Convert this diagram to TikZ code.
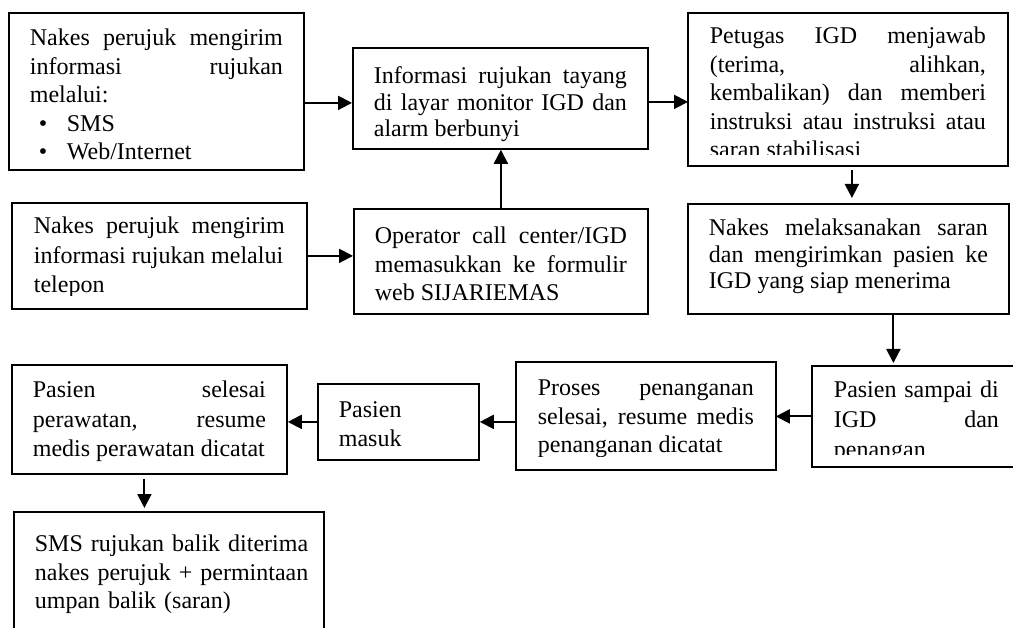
\documentclass[tikz,border=0pt]{standalone}
\usepackage{fontspec}
\setmainfont{Liberation Serif}
\usetikzlibrary{arrows.meta}
\hyphenpenalty=10000
\exhyphenpenalty=10000

\begin{document}
\begin{tikzpicture}[x=1pt, y=-1pt,
    kotak/.style={draw, line width=1.8pt, anchor=north west, align=justify,
        inner xsep=21pt, inner ysep=0pt, font=\fontsize{24}{28.5}\selectfont},
    panah/.style={-{Triangle[length=14pt,width=14pt]}, line width=2pt}]
    \useasboundingbox (0,0) rectangle (1013,628);

    \node[kotak, text width=253pt, text height=33pt, text depth=124pt] (kirimweb) at (8,12)
        {Nakes perujuk mengirim\linebreak informasi rujukan\linebreak melalui:\\
         \hspace*{9pt}\makebox[28pt][l]{\textbullet}SMS\\
         \hspace*{9pt}\makebox[28pt][l]{\textbullet}Web/Internet};
    \node[kotak, text width=253pt, text height=36pt, text depth=65pt,
        font=\fontsize{24}{26.5}\selectfont] (tayang) at (352,47)
        {Informasi rujukan tayang\linebreak di layar monitor IGD dan\linebreak alarm berbunyi};
    \begin{scope}
        \clip (686,11) rectangle (1008,155);
        \node[kotak, draw=none, text width=276pt, text height=30pt, text depth=121pt] (petugas) at (688,13)
            {Petugas IGD menjawab\linebreak (terima, alihkan,\linebreak kembalikan) dan memberi\linebreak
             instruksi atau instruksi atau\linebreak saran stabilisasi};
    \end{scope}
    \draw[line width=1.8pt] (petugas.north west) rectangle (petugas.south east);

    \begin{scope}
        \clip (10,201) rectangle (307,296);
        \node[kotak, draw=none, text width=251pt, text height=30pt, text depth=74pt,
            font=\fontsize{24}{29.5}\selectfont] (kirimtelp) at (12,203)
            {Nakes perujuk mengirim\linebreak informasi rujukan melalui\\ telepon};
    \end{scope}
    \draw[line width=1.8pt] (kirimtelp.north west) rectangle (kirimtelp.south east);
    \node[kotak, text width=252pt, text height=35pt, text depth=70pt] (operator) at (353,208)
        {Operator call center/IGD\linebreak memasukkan ke formulir\linebreak web SIJARIEMAS};
    \node[kotak, text width=279pt, text height=32pt, text depth=78pt,
        font=\fontsize{24}{26.5}\selectfont] (laksana) at (687,203)
        {Nakes melaksanakan saran\linebreak dan mengirimkan pasien ke\linebreak IGD yang siap menerima};

    \begin{scope}
        \clip (810,364) rectangle (1013,455);
        \node[kotak, draw=none, text width=165pt, text height=31pt, text depth=68pt,
            font=\fontsize{24}{30}\selectfont] (sampai) at (812,366)
            {Pasien sampai di\linebreak IGD dan\linebreak penangan};
    \end{scope}
    \draw[line width=1.8pt] (sampai.north west) rectangle (sampai.south east);
    \begin{scope}
        \clip (514,360) rectangle (776,457);
        \node[kotak, draw=none, text width=216pt, text height=33pt, text depth=73pt] (proses) at (516,362)
            {Proses penanganan\linebreak selesai, resume medis\linebreak penanganan dicatat};
    \end{scope}
    \draw[line width=1.8pt] (proses.north west) rectangle (proses.south east);
    \node[kotak, align=left, text width=119pt, text height=34pt, text depth=42pt] (masuk) at (317,383)
        {Pasien\\ masuk};
    \node[kotak, text width=233pt, text height=33pt, text depth=76pt,
        font=\fontsize{24}{29.5}\selectfont] (selesai) at (11,364)
        {Pasien selesai\linebreak perawatan, resume\linebreak medis perawatan dicatat};
    \node[kotak, align=left, text width=268pt, text height=40pt, text depth=110pt] (balik) at (13,511)
        {\mbox{SMS rujukan balik diterima}\\ \mbox{nakes perujuk + permintaan}\\ umpan balik (saran)};

    \draw[panah] ([yshift=-4.5pt]tayang.west -| kirimweb.east) -- ([yshift=-4.5pt]tayang.west);
    \draw[panah] ([yshift=-3.5pt]tayang.east) -- ([yshift=-3.5pt]tayang.east -| petugas.west);
    \draw[panah] (operator.north) -- (operator.north |- tayang.south);
    \draw[panah] (kirimtelp.east) -- (kirimtelp.east -| operator.west);
    \draw[panah, shorten <=4pt, shorten >=5pt] ([xshift=4pt]petugas.south) -- ([xshift=4pt]petugas.south |- laksana.north);
    \draw[panah, shorten >=3pt] ([xshift=45pt]laksana.south) -- ([xshift=45pt]laksana.south |- sampai.north);
    \draw[panah] (sampai.west) -- (sampai.west -| proses.east);
    \draw[panah] (proses.west |- masuk.east) -- (masuk.east);
    \draw[panah] (masuk.west) -- (masuk.west -| selesai.east);
    \draw[panah, shorten <=4pt, shorten >=3pt] ([xshift=-5pt]selesai.south) -- ([xshift=-5pt]selesai.south |- balik.north);
\end{tikzpicture}
\end{document}
